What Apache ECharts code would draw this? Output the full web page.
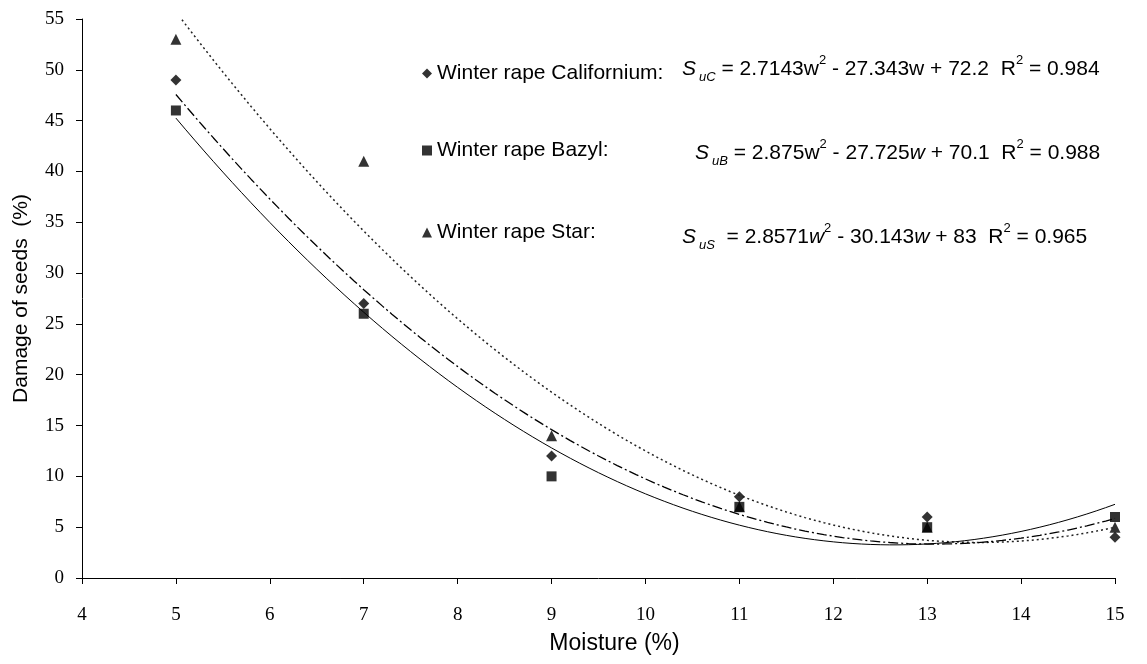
<!DOCTYPE html>
<html>
<head>
<meta charset="utf-8">
<script src="https://cdn.jsdelivr.net/npm/echarts@6/dist/echarts.min.js"></script>
<style>
  html, body { margin: 0; padding: 0; background: #fff; }
  #chart { width: 1147px; height: 664px; }
</style>
</head>
<body>
<div id="chart"></div>
<script>
// measured points (moisture %, damage %)
const moisture = [5, 7, 9, 11, 13, 15]
const californium = [49, 27, 12, 8, 6, 4]
const bazyl = [46, 26, 10, 7, 5, 6]
const star = [53, 41, 14, 7, 5, 5]

// trendline coefficients from the equations: a*w^2 + b*w + c, w = point index 1..6
const coefCalifornium = [2.7143, -27.343, 72.2]
const coefBazyl = [2.875, -27.725, 70.1]
const coefStar = [2.8571, -30.143, 83]

const names = ['Winter rape Californium:', 'Winter rape Bazyl:', 'Winter rape Star:']

const chart = echarts.init(document.getElementById('chart'))

function pairs(ys) {
  return moisture.map((x, i) => [x, ys[i]])
}

// trendline of the fitted polynomial, moisture 5..15
function trend(coef) {
  const pts = []
  for (let k = 0; k <= 100; k++) {
    const x = 5 + k * 0.1
    const w = (x - 3) / 2
    pts.push([x, coef[0] * w * w + coef[1] * w + coef[2]])
  }
  return pts
}

const sans = 'Liberation Sans'
const serif = 'Liberation Serif'

const eqRich = {
  n: { fontFamily: sans, fontSize: 21, lineHeight: 30, color: '#000', verticalAlign: 'middle' },
  i: { fontFamily: sans, fontSize: 21, lineHeight: 30, fontStyle: 'italic', color: '#000', verticalAlign: 'middle' },
  sub: { fontFamily: sans, fontSize: 13, lineHeight: 13, fontStyle: 'italic', color: '#000', verticalAlign: 'bottom', padding: [0, 0, 0, 3] },
  sup: { fontFamily: sans, fontSize: 13, lineHeight: 14, color: '#000', verticalAlign: 'top' }
}

function legendAt(name, icon, top) {
  return {
    data: [{ name: name, icon: icon }],
    left: 422,
    top: top,
    padding: 0,
    itemWidth: 10,
    itemHeight: 10,
    itemGap: 5,
    textStyle: { fontFamily: sans, fontSize: 21, color: '#000' },
    selectedMode: false
  }
}

chart.setOption({
  animation: false,
  backgroundColor: '#fff',
  grid: { left: 82, right: 32, top: 19, bottom: 86 },
  legend: [
    legendAt(names[0], 'diamond', 63),
    legendAt(names[1], 'rect', 140),
    legendAt(names[2], 'triangle', 222)
  ],
  graphic: [
    {
      type: 'text', left: 682, top: 54,
      style: { text: '{i|S}{sub|uC}{n| = 2.7143w}{sup|2}{n| - 27.343w + 72.2  R}{sup|2}{n| = 0.984}', rich: eqRich }
    },
    {
      type: 'text', left: 695, top: 138,
      style: { text: '{i|S}{sub|uB}{n| = 2.875w}{sup|2}{n| - 27.725}{i|w}{n| + 70.1  R}{sup|2}{n| = 0.988}', rich: eqRich }
    },
    {
      type: 'text', left: 682, top: 222,
      style: { text: '{i|S}{sub|uS}{n|  = 2.8571}{i|w}{sup|2}{n| - 30.143}{i|w}{n| + 83  R}{sup|2}{n| = 0.965}', rich: eqRich }
    }
  ],
  xAxis: {
    type: 'value',
    min: 4,
    max: 15,
    interval: 1,
    name: 'Moisture (%)',
    nameLocation: 'middle',
    nameGap: 54,
    nameTextStyle: { fontFamily: sans, fontSize: 23, color: '#000', padding: [0, 0, 0, 32] },
    axisLine: { show: true, lineStyle: { color: '#000', width: 1 } },
    axisTick: { show: true, length: 6, lineStyle: { color: '#000' } },
    axisLabel: { margin: 28, fontFamily: serif, fontSize: 19, color: '#000' },
    splitLine: { show: false }
  },
  yAxis: {
    type: 'value',
    min: 0,
    max: 55,
    interval: 5,
    name: 'Damage of seeds  (%)',
    nameLocation: 'middle',
    nameGap: 50,
    nameTextStyle: { fontFamily: sans, fontSize: 21, color: '#000' },
    axisLine: { show: true, lineStyle: { color: '#000', width: 1 } },
    axisTick: { show: true, length: 6, lineStyle: { color: '#000' } },
    axisLabel: { margin: 18, fontFamily: serif, fontSize: 19, color: '#000' },
    splitLine: { show: false }
  },
  series: [
    {
      name: 'trend Star',
      type: 'line',
      data: trend(coefStar),
      showSymbol: false,
      silent: true,
      clip: true,
      lineStyle: { color: '#222', width: 1.5, type: [2, 3] }
    },
    {
      name: 'trend Californium',
      type: 'line',
      data: trend(coefCalifornium),
      showSymbol: false,
      silent: true,
      lineStyle: { color: '#000', width: 1.3, type: [10, 3, 2, 3] }
    },
    {
      name: 'trend Bazyl',
      type: 'line',
      data: trend(coefBazyl),
      showSymbol: false,
      silent: true,
      lineStyle: { color: '#000', width: 1 }
    },
    {
      name: names[2],
      type: 'scatter',
      symbol: 'triangle',
      symbolSize: 11,
      itemStyle: { color: '#000' },
      data: pairs(star)
    },
    {
      name: names[0],
      type: 'scatter',
      symbol: 'diamond',
      symbolSize: 11,
      itemStyle: { color: '#000' },
      data: pairs(californium)
    },
    {
      name: names[1],
      type: 'scatter',
      symbol: 'rect',
      symbolSize: 10,
      itemStyle: { color: '#000' },
      data: pairs(bazyl)
    }
  ]
})
</script>
</body>
</html>
